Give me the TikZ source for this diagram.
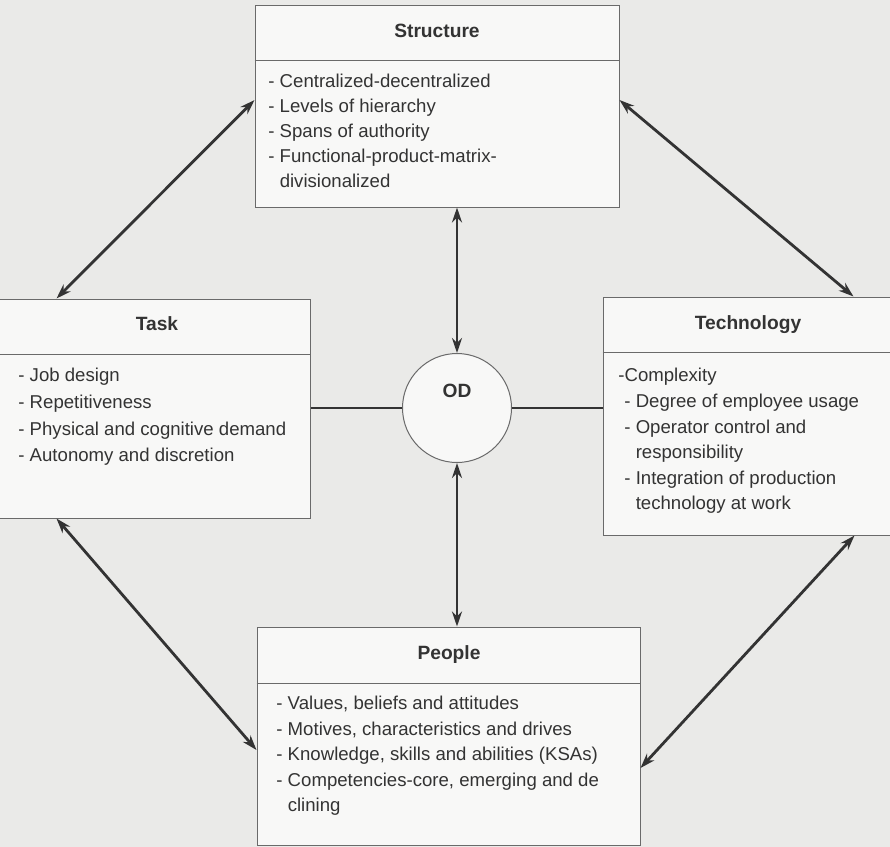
\documentclass[tikz,border=0pt]{standalone}
\usepackage{fontspec}
\setmainfont{Liberation Sans}
\usepackage{tikz}
\usetikzlibrary{positioning, arrows.meta, fit}
\definecolor{odpaper}{HTML}{EAEAE8}
\definecolor{odbox}{HTML}{F8F8F7}
\definecolor{odline}{HTML}{6A6A6A}
\definecolor{odink}{HTML}{333333}

\begin{document}
\begin{tikzpicture}[x=0.5pt, y=-0.5pt, text=odink,
        box/.style={draw=odline, line width=0.5pt, fill=odbox, inner sep=0pt},
        title/.style={font=\fontsize{9.6}{11}\selectfont\bfseries, anchor=base, inner sep=0pt},
        items/.style={font=\fontsize{9.3}{#1}\selectfont, align=left, anchor=north west, inner sep=0pt},
        items/.default=12.7pt,
        divider/.style={draw=odline, line width=0.5pt},
        link/.style={draw=odink, line width=1.4pt},
        both/.style={link, {Stealth[length=7.5pt, width=5pt]}-{Stealth[length=7.5pt, width=5pt]}}]
        \fill[odpaper] (0,0) rectangle (890,847);
        \useasboundingbox (0,0) rectangle (890,847);
        \clip (0,0) rectangle (890,847);

        \node[box, fit={(255,5) (619,207)}] (struct) {};
        \node[title] (structT) at (437,37) {Structure};
        \draw[divider] (struct.west |- 0,60) -- (struct.east |- 0,60);
        \node[items=12.5pt] (structL) at (268,74) {- Centralized-decentralized\\- Levels of hierarchy\\- Spans of authority\\- Functional-product-matrix-\\\phantom{- }divisionalized};

        \node[box, fit={(-6,299) (310,518)}] (task) {};
        \node[title] (taskT) at (157,330) {Task};
        \draw[divider] (task.west |- 0,354) -- (task.east |- 0,354);
        \node[items=13.3pt] (taskL) at (18,368) {- Job design\\- Repetitiveness\\- Physical and cognitive demand\\- Autonomy and discretion};

        \node[box, fit={(603,297) (896,535)}] (tech) {};
        \node[title] (techT) at (748,329) {Technology};
        \draw[divider] (tech.west |- 0,352) -- (tech.east |- 0,352);
        \node[items=12.8pt] (techL) at (618,368) {-Complexity\\\hspace*{3pt}- Degree of employee usage\\\hspace*{3pt}- Operator control and\\\hspace*{3pt}\phantom{- }responsibility\\\hspace*{3pt}- Integration of production\\\hspace*{3pt}\phantom{- }technology at work};

        \node[box, fit={(257,627) (640,845)}] (people) {};
        \node[title] (peopleT) at (449,659) {People};
        \draw[divider] (people.west |- 0,683) -- (people.east |- 0,683);
        \node[items=12.75pt] (peopleL) at (276,696) {- Values, beliefs and attitudes\\- Motives, characteristics and drives\\- Knowledge, skills and abilities (KSAs)\\- Competencies-core, emerging and de\\\phantom{- }clining};

        \node[circle, draw=odline, line width=0.5pt, fill=odbox, minimum size=54.5pt, inner sep=0pt] (od) at (457,408) {};
        \node[title] (odT) at (457,397) {OD};

        \draw[both] (od.north) -- (od.north |- struct.south);
        \draw[both] (od.south) -- (od.south |- people.north);
        \draw[link] (od.west) -- (od.west -| task.east);
        \draw[link] (od.east) -- (od.east -| tech.west);
        \draw[both] ([yshift=3pt]struct.west) -- ([xshift=31.5pt]task.north west);
        \draw[both] ([yshift=3pt]struct.east) -- ([xshift=125.5pt]tech.north west);
        \draw[both] ([xshift=31.5pt]task.south west) -- ([yshift=-7pt]people.west);
        \draw[both] ([yshift=-16pt]people.east) -- ([xshift=126pt]tech.south west);
      \end{tikzpicture}
\end{document}
